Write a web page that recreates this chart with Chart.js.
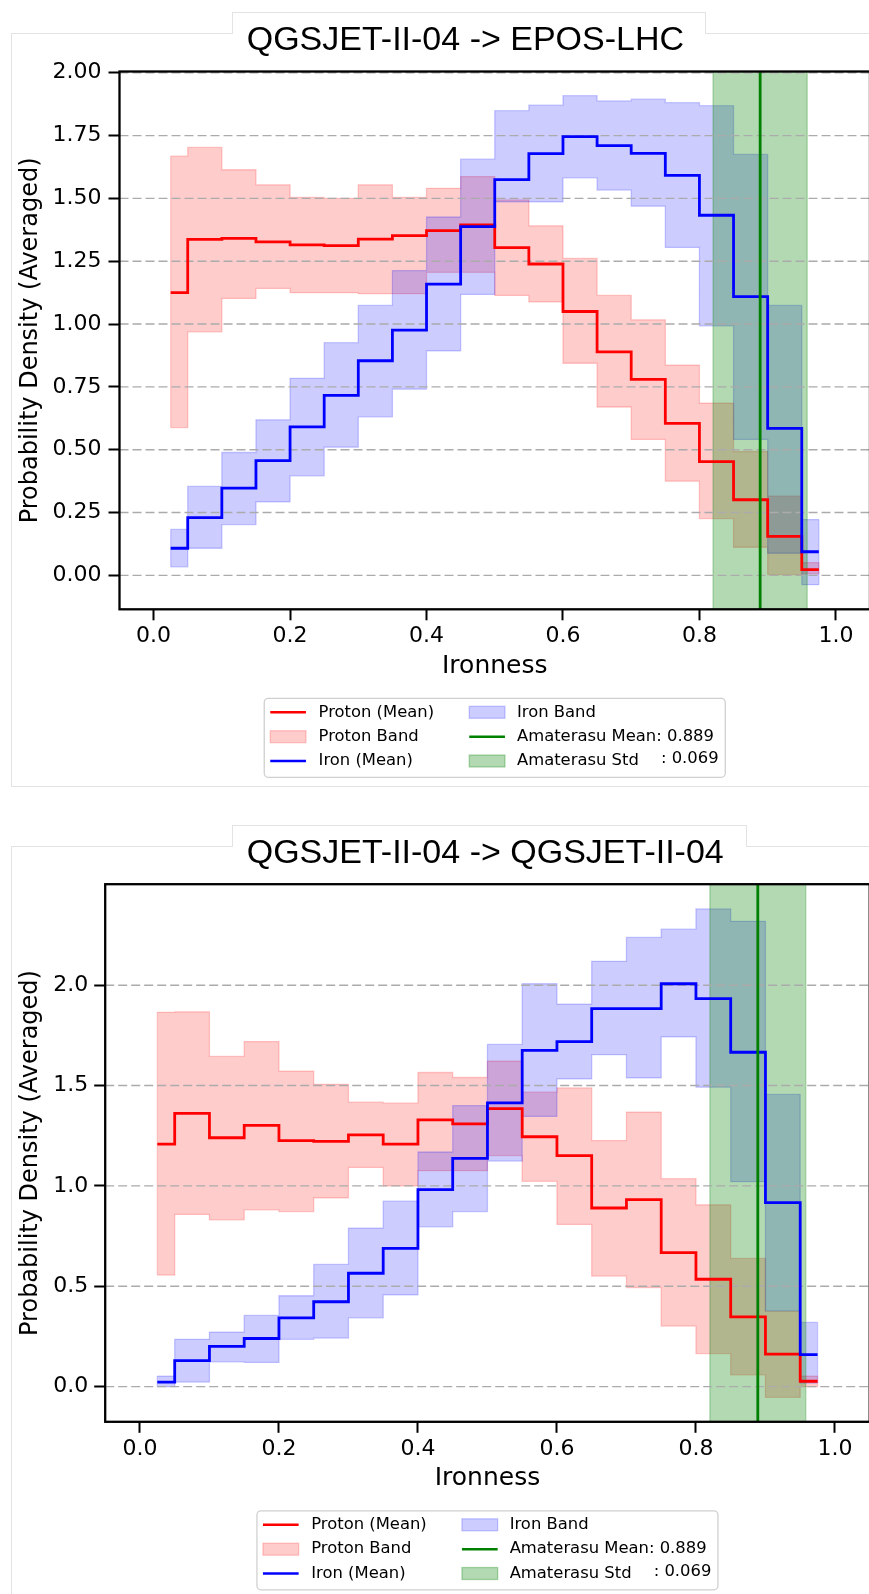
<!DOCTYPE html>
<html>
<head>
<meta charset="utf-8">
<script src="https://cdn.jsdelivr.net/npm/chart.js@4.4.0/dist/chart.umd.min.js"></script>
<style>
  html, body { margin: 0; padding: 0; background: #fff; overflow: hidden; width: 869px; height: 1594px; }
  .card { position: absolute; left: 11px; width: 900px; border: 1px solid #e3e3e3; box-sizing: border-box; }
  .tab { position: absolute; border: 1px solid #e3e3e3; border-bottom: none; background: #fff; box-sizing: border-box; }
  .ttl { position: absolute; font-family: "Liberation Sans", Arial, sans-serif; font-size: 34px; line-height: 34px; white-space: nowrap; color: #000; }
  canvas { position: absolute; left: 0; }
</style>
</head>
<body>
<div class="card" style="top:33px;height:754px"></div>
<div class="card" style="top:846px;height:800px"></div>
<canvas id="eposChart" width="880" height="800" style="top:0"></canvas>
<canvas id="qgsChart" width="880" height="794" style="top:800px"></canvas>
<div class="tab" style="left:232px;top:12px;width:474px;height:22px"></div>
<div class="ttl" style="left:246.7px;top:21.2px">QGSJET-II-04 -&gt; EPOS-LHC</div>
<div class="tab" style="left:232px;top:825px;width:515px;height:22px"></div>
<div class="ttl" style="left:246.7px;top:834px">QGSJET-II-04 -&gt; QGSJET-II-04</div>

<script>
// bin centres of the step histograms (where='mid')
const BIN_CENTERS = [0.025, 0.075, 0.125, 0.175, 0.225, 0.275, 0.325, 0.375, 0.425, 0.475,
                     0.525, 0.575, 0.625, 0.675, 0.725, 0.775, 0.825, 0.875, 0.925, 0.975];
const X_TICKS = [0, 0.2, 0.4, 0.6, 0.8, 1.0];
const EPOS_Y_TICKS = [0, 0.25, 0.5, 0.75, 1, 1.25, 1.5, 1.75, 2];
const QGS_Y_TICKS = [0, 0.5, 1, 1.5, 2];

const AMA_MEAN = 0.889;
const AMA_STD = 0.069;

// QGSJET-II-04 -> EPOS-LHC
const EPOS_P_MEAN = [1.125, 1.337, 1.341, 1.327, 1.315, 1.312, 1.338, 1.352, 1.372, 1.395,
                     1.304, 1.239, 1.050, 0.889, 0.780, 0.605, 0.453, 0.301, 0.155, 0.023];
const EPOS_P_HI   = [1.668, 1.703, 1.614, 1.554, 1.504, 1.500, 1.554, 1.504, 1.540, 1.587,
                     1.494, 1.391, 1.261, 1.114, 1.017, 0.837, 0.685, 0.493, 0.315, 0.051];
const EPOS_P_LO   = [0.588, 0.969, 1.102, 1.142, 1.125, 1.125, 1.121, 1.121, 1.206, 1.206,
                     1.114, 1.088, 0.844, 0.670, 0.541, 0.375, 0.226, 0.112, 0.003, 0.006];
const EPOS_FE_MEAN = [0.108, 0.230, 0.347, 0.457, 0.591, 0.716, 0.854, 0.976, 1.159, 1.388,
                      1.575, 1.678, 1.746, 1.710, 1.679, 1.592, 1.433, 1.109, 0.585, 0.094];
const EPOS_FE_HI   = [0.183, 0.354, 0.489, 0.619, 0.784, 0.926, 1.074, 1.213, 1.426, 1.656,
                      1.849, 1.871, 1.909, 1.888, 1.895, 1.881, 1.869, 1.675, 1.074, 0.222];
const EPOS_FE_LO   = [0.034, 0.108, 0.202, 0.293, 0.396, 0.510, 0.631, 0.741, 0.893, 1.118,
                      1.486, 1.486, 1.582, 1.533, 1.469, 1.305, 0.993, 0.541, 0.088, -0.037];

// QGSJET-II-04 -> QGSJET-II-04
const QGS_P_MEAN = [1.208, 1.361, 1.240, 1.302, 1.226, 1.222, 1.254, 1.208, 1.329, 1.309,
                    1.385, 1.245, 1.151, 0.890, 0.932, 0.668, 0.535, 0.348, 0.162, 0.027];
const QGS_P_HI   = [1.865, 1.867, 1.645, 1.719, 1.572, 1.506, 1.417, 1.412, 1.565, 1.540,
                    1.622, 1.467, 1.488, 1.226, 1.368, 1.036, 0.906, 0.639, 0.375, 0.053];
const QGS_P_LO   = [0.556, 0.858, 0.831, 0.881, 0.872, 0.941, 1.092, 1.000, 1.076, 1.076,
                    1.151, 1.023, 0.808, 0.551, 0.494, 0.302, 0.165, 0.059, -0.053, 0.000];
const QGS_FE_MEAN = [0.023, 0.130, 0.201, 0.240, 0.343, 0.423, 0.565, 0.689, 0.982, 1.137,
                     1.414, 1.675, 1.719, 1.883, 1.883, 2.007, 1.933, 1.666, 0.917, 0.160];
const QGS_FE_HI   = [0.053, 0.236, 0.272, 0.355, 0.453, 0.609, 0.790, 0.924, 1.169, 1.400,
                     1.705, 2.007, 1.906, 2.119, 2.238, 2.279, 2.380, 2.318, 1.456, 0.320];
const QGS_FE_LO   = [0.000, 0.023, 0.124, 0.121, 0.236, 0.242, 0.343, 0.458, 0.796, 0.872,
                     1.124, 1.346, 1.533, 1.654, 1.538, 1.742, 1.492, 1.021, 0.378, 0.018];

const FONT = 'DejaVu Sans';
const toPoints = vals => BIN_CENTERS.map((x, i) => ({ x, y: vals[i] }));

const meanLine = (label, vals, color, slot) => ({
  label, data: toPoints(vals), borderColor: color, borderWidth: 2.8,
  stepped: 'middle', pointRadius: 0, fill: false, order: 0, legendSlot: slot
});

const bandEdge = (label, vals, rgb, fill, slot) => ({
  label, data: toPoints(vals), borderColor: `rgba(${rgb},0.2)`, borderWidth: 1.3,
  backgroundColor: `rgba(${rgb},0.2)`, stepped: 'middle', pointRadius: 0,
  fill, order: 2, legendSlot: slot
});

// the closing vertical sides of a fill_between band
const bandEnds = (hi, lo, rgb) => [0, BIN_CENTERS.length - 1].map(i => ({
  label: '', data: [{ x: BIN_CENTERS[i], y: lo[i] }, { x: BIN_CENTERS[i], y: hi[i] }],
  borderColor: `rgba(${rgb},0.2)`, borderWidth: 1.3, pointRadius: 0, fill: false, order: 2
}));

// gridlines, frame and the two-column legend
const panelDeco = {
  id: 'panelDeco',
  afterDatasetDraw(chart, args) {
    if (chart.data.datasets[args.index].label !== 'Amaterasu Std') return;
    const { ctx, chartArea: a, scales: { y } } = chart;
    ctx.save();
    ctx.strokeStyle = '#ababab';
    ctx.lineWidth = 1.4;
    ctx.setLineDash([9, 4]);
    y.ticks.forEach(t => {
      const py = y.getPixelForValue(t.value);
      ctx.beginPath(); ctx.moveTo(a.left, py); ctx.lineTo(a.right, py); ctx.stroke();
    });
    ctx.restore();
  },
  afterDatasetsDraw(chart) {
    const { ctx, chartArea: a } = chart;
    ctx.save();
    ctx.strokeStyle = '#000';
    ctx.lineWidth = 2.3;
    ctx.strokeRect(a.left, a.top, a.right - a.left, a.bottom - a.top);
    ctx.restore();
  },
  afterDraw(chart) {
    const { ctx, chartArea: a } = chart;
    const W = 461, H = 79;
    const L = (a.left + a.right) / 2 - W / 2, T = a.bottom + 89;
    ctx.save();
    ctx.beginPath();
    ctx.roundRect(L, T, W, H, 4);
    ctx.fillStyle = 'rgba(255,255,255,0.8)';
    ctx.fill();
    ctx.strokeStyle = '#d0d0d0';
    ctx.lineWidth = 1.3;
    ctx.stroke();
    const colX = [6, 205], textX = [54.3, 252.7], rowY = [14, 38.4, 62.7];
    ctx.font = `16.4px "${FONT}"`;
    ctx.textBaseline = 'middle';
    chart.data.datasets.forEach(ds => {
      if (!ds.legendSlot) return;
      const [c, r] = ds.legendSlot;
      const x0 = L + colX[c], y0 = T + rowY[r];
      if (ds.fill) {
        ctx.fillStyle = ds.backgroundColor;
        ctx.fillRect(x0, y0 - 6, 35.7, 12);
        ctx.strokeStyle = ds.borderColor;
        ctx.lineWidth = 1.3;
        ctx.strokeRect(x0, y0 - 6, 35.7, 12);
      } else {
        ctx.strokeStyle = ds.borderColor;
        ctx.lineWidth = 2.5;
        ctx.beginPath(); ctx.moveTo(x0, y0); ctx.lineTo(x0 + 35.7, y0); ctx.stroke();
      }
      ctx.fillStyle = '#000';
      ctx.fillText(ds.label, L + textX[c], y0);
      if (ds.legendSuffix) ctx.fillText(ds.legendSuffix, L + 396.7, y0 - 2);
    });
    ctx.restore();
  }
};

const makeChart = (id, s) => {
  const datasets = [
    {
      label: `Amaterasu Mean: ${AMA_MEAN.toFixed(3)}`,
      data: [{ x: AMA_MEAN, y: s.yMin }, { x: AMA_MEAN, y: s.yMax }],
      borderColor: 'rgb(0,128,0)', borderWidth: 2.8, pointRadius: 0, fill: false,
      order: 0, legendSlot: [1, 1]
    },
    meanLine('Iron (Mean)', s.feMean, 'rgb(0,0,255)', [0, 2]),
    meanLine('Proton (Mean)', s.pMean, 'rgb(255,0,0)', [0, 0]),
    {
      label: 'Amaterasu Std',
      legendSuffix: `: ${AMA_STD.toFixed(3)}`,
      data: [
        { x: AMA_MEAN - AMA_STD, y: s.yMin }, { x: AMA_MEAN - AMA_STD, y: s.yMax },
        { x: AMA_MEAN + AMA_STD, y: s.yMax }, { x: AMA_MEAN + AMA_STD, y: s.yMin }
      ],
      borderColor: 'rgba(0,128,0,0.3)', borderWidth: 1.3, backgroundColor: 'rgba(0,128,0,0.3)',
      pointRadius: 0, fill: 'start', order: 1, legendSlot: [1, 2]
    },
    bandEdge('Iron Band', s.feHi, '0,0,255', '+1', [1, 0]),
    bandEdge('', s.feLo, '0,0,255', false, null),
    bandEdge('Proton Band', s.pHi, '255,0,0', '+1', [0, 1]),
    bandEdge('', s.pLo, '255,0,0', false, null),
    ...bandEnds(s.feHi, s.feLo, '0,0,255'),
    ...bandEnds(s.pHi, s.pLo, '255,0,0')
  ];

  const tickFont = { family: FONT, size: 22 };
  const tickGrid = { drawOnChartArea: false, drawTicks: true, tickLength: 11, tickWidth: 2, tickColor: '#000' };

  return new Chart(document.getElementById(id), {
    type: 'line',
    data: { datasets },
    options: {
      responsive: false,
      animation: false,
      events: [],
      layout: { padding: { top: s.padTop, left: 0, right: s.padRight, bottom: s.padBottom } },
      plugins: { legend: { display: false }, tooltip: { enabled: false }, title: { display: false } },
      scales: {
        x: {
          type: 'linear', min: -0.05, max: 1.05,
          afterBuildTicks: sc => { sc.ticks = X_TICKS.map(v => ({ value: v })); },
          afterFit: sc => { sc.height = 80; },
          ticks: { font: tickFont, color: '#000', padding: 3, maxRotation: 0, autoSkip: false,
                   callback: v => v.toFixed(1) },
          grid: tickGrid,
          border: { display: false },
          title: { display: true, text: 'Ironness', color: '#000',
                   font: { family: FONT, size: 25 }, padding: { top: 0, bottom: 8 } }
        },
        y: {
          type: 'linear', min: s.yMin, max: s.yMax,
          afterBuildTicks: sc => { sc.ticks = s.yTicks.map(v => ({ value: v })); },
          afterFit: sc => { sc.width = s.yWidth; },
          ticks: { font: tickFont, color: '#000', padding: s.yPad, autoSkip: false,
                   callback: v => v.toFixed(s.yDecimals) },
          grid: tickGrid,
          border: { display: false },
          title: { display: true, text: 'Probability Density (Averaged)', color: '#000',
                   font: { family: FONT, size: 24 }, padding: { top: 16, bottom: 0 } }
        }
      }
    },
    plugins: [panelDeco]
  });
};

makeChart('eposChart', {
  pMean: EPOS_P_MEAN, pHi: EPOS_P_HI, pLo: EPOS_P_LO,
  feMean: EPOS_FE_MEAN, feHi: EPOS_FE_HI, feLo: EPOS_FE_LO,
  yMin: -0.135, yMax: 2.005, yTicks: EPOS_Y_TICKS, yDecimals: 2,
  yWidth: 119.5, yPad: 7, padTop: 71.5, padRight: 10, padBottom: 110.7
});

makeChart('qgsChart', {
  pMean: QGS_P_MEAN, pHi: QGS_P_HI, pLo: QGS_P_LO,
  feMean: QGS_FE_MEAN, feHi: QGS_FE_HI, feLo: QGS_FE_LO,
  yMin: -0.175, yMax: 2.503, yTicks: QGS_Y_TICKS, yDecimals: 1,
  yWidth: 105.2, yPad: 6, padTop: 84.2, padRight: 10.3, padBottom: 92.2
});
</script>
</body>
</html>
